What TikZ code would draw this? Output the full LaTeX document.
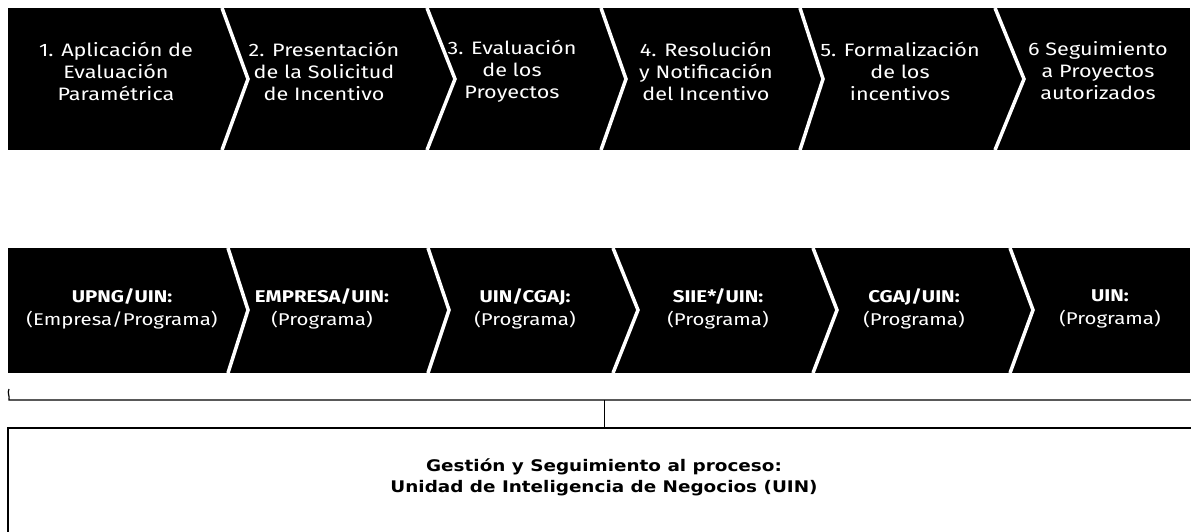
\documentclass[tikz,border=0pt]{standalone}
\usepackage{fontspec}
\setmainfont{Fira Sans}[FakeStretch=1.2]
\newfontfamily\boxfont{DejaVu Sans}[FakeStretch=1.15]
\begin{document}
\begin{tikzpicture}[x=1pt,y=-1pt,
  bandfill/.style={fill=black},
  sepline/.style={draw=white,line width=3.5pt,line join=miter},
  steptxt/.style={text=white,align=center,inner sep=0pt,font=\fontsize{18}{22}\selectfont},
  roletxt/.style={text=white,align=center,inner sep=0pt,font=\fontsize{17}{23}\selectfont},
  thinline/.style={draw=black,line width=1.2pt},
  boxtxt/.style={align=center,inner sep=0pt,font=\boxfont\bfseries\fontsize{16}{21}\selectfont}]
\useasboundingbox (0,0) rectangle (1191,531);
\clip (0,0) rectangle (1191,531);
% top band
\fill[bandfill] (8,8) rectangle (1190,150);
\foreach \t/\p in {222/248,427/455,601/626,800/823,995/1024}
  \draw[sepline] (\t,8) -- (\p,79) -- (\t,150);
\node[steptxt] (s1) at (116,71) {1. Aplicación de\\Evaluación\\Paramétrica};
\node[steptxt] (s2) at (324,71) {2. Presentación\\de la Solicitud\\de Incentivo};
\node[steptxt] (s3) at (512,71) {3. Evaluación\\de los\\Proyectos};
\node[steptxt] (s4) at (706,71) {4. Resolución\\y Notificación\\del Incentivo};
\node[steptxt] (s5) at (900,71) {5. Formalización\\de los\\incentivos};
\node[steptxt] (s6) at (1098,71) {6 Seguimiento\\a Proyectos\\autorizados};
% second band
\fill[bandfill] (8,248) rectangle (1190,373);
\foreach \t/\p in {228/248,428/449,613/638,813/837,1010/1033}
  \draw[sepline] (\t,248) -- (\p,310) -- (\t,373);
\node[roletxt] (r1) at (122,309) {\textbf{UPNG/UIN:}\\(Empresa/Programa)};
\node[roletxt] (r2) at (322,309) {\textbf{EMPRESA/UIN:}\\(Programa)};
\node[roletxt] (r3) at (525,309) {\textbf{UIN/CGAJ:}\\(Programa)};
\node[roletxt] (r4) at (718,309) {\textbf{SIIE*/UIN:}\\(Programa)};
\node[roletxt] (r5) at (914,309) {\textbf{CGAJ/UIN:}\\(Programa)};
\node[roletxt] (r6) at (1110,309) {\textbf{UIN:}\\(Programa)};
% bracket
\coordinate (bl) at (9,400);
\coordinate (br) at (1191,400);
\coordinate (bm) at (604,400);
\coordinate (bt) at (604,428);
\draw[thinline] (9,389) .. controls (7,393) and (10,396) .. (bl) -- (br);
\draw[thinline,line width=0.8pt] (bm) -- (bt);
% box
\draw[thinline,line width=1.5pt] (8,540) -- (8,428) -- (1200,428);
\node[boxtxt] (gest) at (604,477) {Gestión y Seguimiento al proceso:\\Unidad de Inteligencia de Negocios (UIN)};
\end{tikzpicture}
\end{document}
